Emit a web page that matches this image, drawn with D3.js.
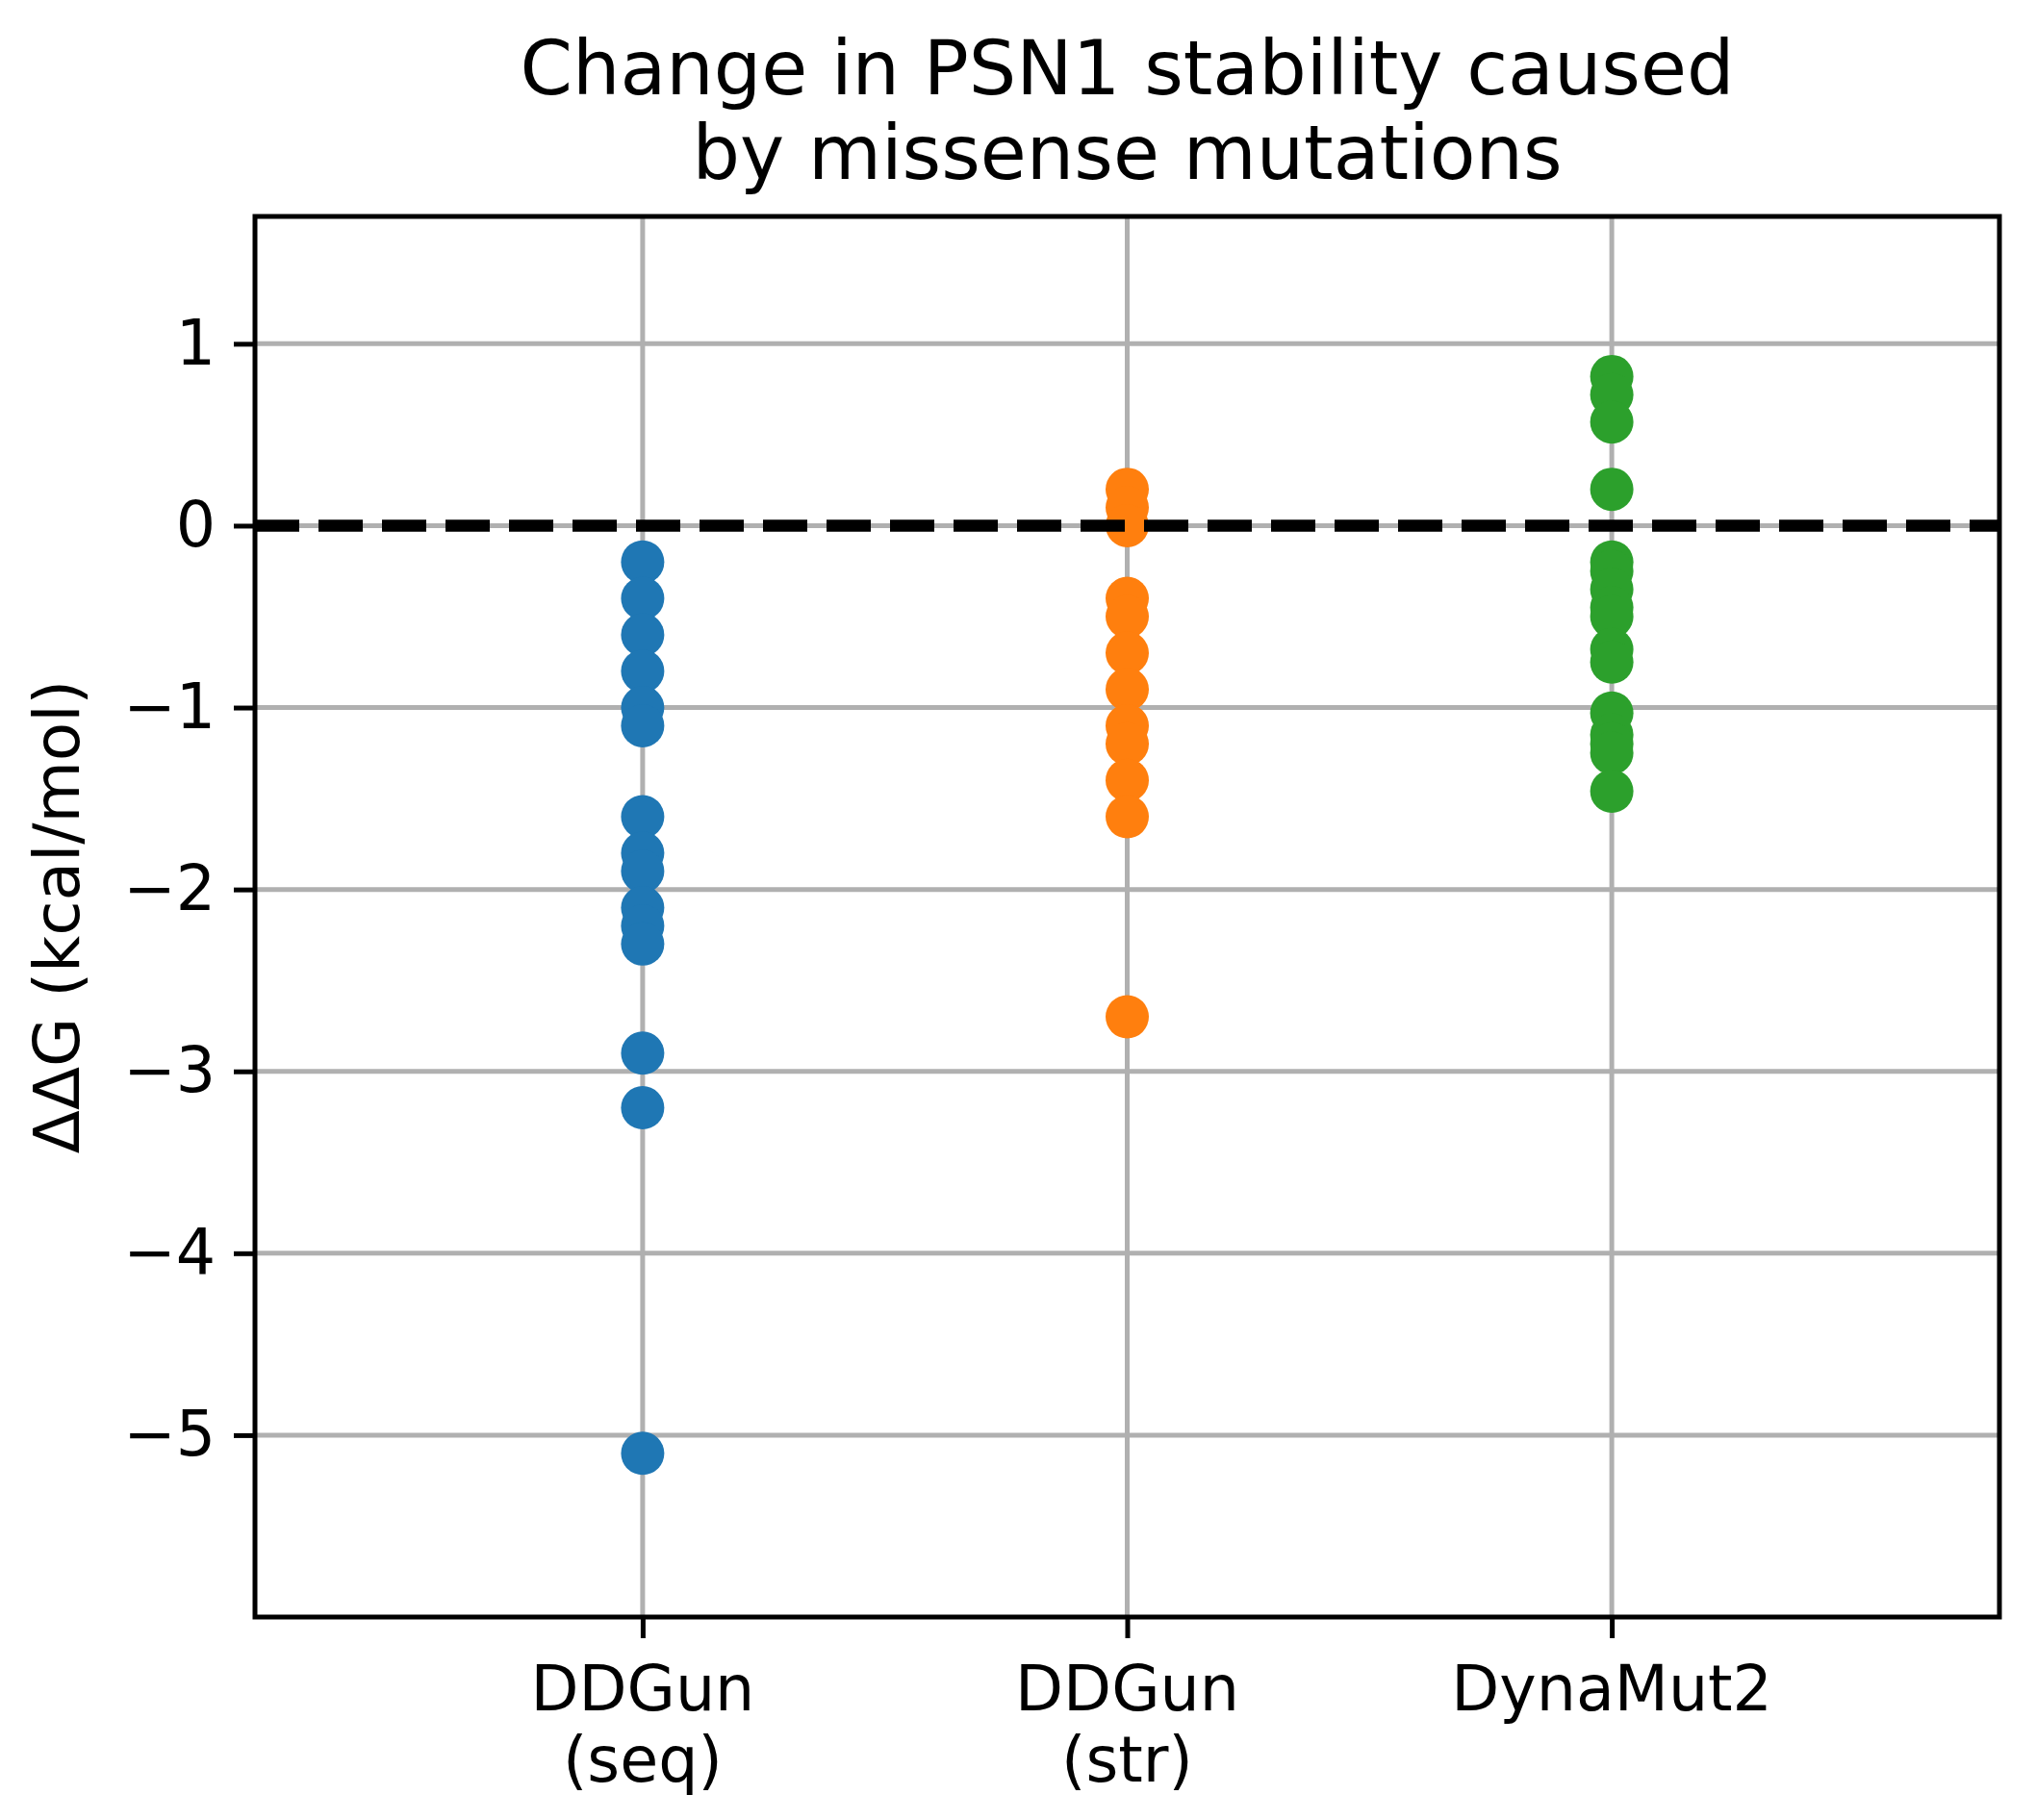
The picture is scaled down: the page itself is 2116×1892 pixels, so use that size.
<!DOCTYPE html>
<html>
<head>
<meta charset="utf-8">
<script src="https://cdn.jsdelivr.net/npm/d3@7"></script>
<style>
  body { margin: 0; background: #fff; }
  text { font-family: "DejaVu Sans", sans-serif; fill: #000; }
</style>
</head>
<body>
<svg id="chart"></svg>
<script>
/*******************************************************************************************/
// Data

var categories = ['DDGun\n(seq)', 'DDGun\n(str)', 'DynaMut2'];
var colors = ['#1f77b4', '#ff7f0e', '#2ca02c'];

var ddgunSeq = [-0.2, -0.4, -0.6, -0.8, -1.0, -1.1, -1.6, -1.8, -1.9, -2.1, -2.2, -2.3, -2.9, -3.2, -5.1];
var ddgunStr = [0.2, 0.1, 0.0, -0.4, -0.5, -0.7, -0.9, -1.1, -1.2, -1.4, -1.6, -2.7];
var dynaMut2 = [0.82, 0.72, 0.57, 0.2, -0.2, -0.25, -0.35, -0.45, -0.5, -0.68, -0.75, -1.03, -1.15, -1.2, -1.25, -1.46];

var yTicks = [1, 0, -1, -2, -3, -4, -5];
var yLimits = [-6, 1.7];
var xLimits = [-0.8, 2.8];

var titleLines = ['Change in PSN1 stability caused', 'by missense mutations'];
var yLabel = 'ΔΔG (kcal/mol)';

/*******************************************************************************************/
// Layout

var W = 2116, H = 1892;
var margin = { left: 265, top: 225, right: 38, bottom: 211 };
var width = W - margin.left - margin.right;
var height = H - margin.top - margin.bottom;

var svg = d3.select('#chart').attr('width', W).attr('height', H);
svg.append('rect').attr('width', W).attr('height', H).attr('fill', '#fff');

var xScale = d3.scaleLinear().domain(xLimits).range([0, width]);
var yScale = d3.scaleLinear().domain(yLimits).range([height, 0]);

var origin = svg.append('g').attr('transform', 'translate(' + margin.left + ',' + margin.top + ')');

/*******************************************************************************************/
// Grid

var grid = origin.append('g').attr('stroke', '#b0b0b0').attr('stroke-width', 5);
grid.selectAll('.hgrid').data(yTicks).enter().append('line')
  .attr('x1', 0).attr('x2', width)
  .attr('y1', function(d){ return yScale(d) }).attr('y2', function(d){ return yScale(d) });
grid.selectAll('.vgrid').data(categories).enter().append('line')
  .attr('y1', 0).attr('y2', height)
  .attr('x1', function(d, i){ return xScale(i) }).attr('x2', function(d, i){ return xScale(i) });

/*******************************************************************************************/
// Points

var series = [ddgunSeq, ddgunStr, dynaMut2];
series.forEach(function(vals, i){
  origin.append('g').selectAll('circle').data(vals).enter().append('circle')
    .attr('cx', xScale(i))
    .attr('cy', function(d){ return yScale(d) })
    .attr('r', 22.5)
    .attr('fill', colors[i]);
});

// zero line
origin.append('line')
  .attr('x1', 0).attr('x2', width)
  .attr('y1', yScale(0)).attr('y2', yScale(0))
  .attr('stroke', '#000').attr('stroke-width', 12.4)
  .attr('stroke-dasharray', '46,20');

/*******************************************************************************************/
// Axes

var yAxis = origin.append('g').call(
  d3.axisLeft(yScale).tickValues(yTicks).tickSize(22).tickPadding(19).tickFormat(d3.format('d'))
);
yAxis.select('.domain').remove();
yAxis.selectAll('line').attr('stroke-width', 5).attr('stroke', '#000');
yAxis.selectAll('text').attr('font-size', 65).attr('font-family', '"DejaVu Sans", sans-serif').attr('fill', '#000');

var xAxis = origin.append('g').attr('transform', 'translate(0,' + height + ')').call(
  d3.axisBottom(xScale).tickValues(d3.range(categories.length)).tickSize(22).tickFormat('')
);
xAxis.select('.domain').remove();
xAxis.selectAll('line').attr('stroke-width', 5).attr('stroke', '#000');

categories.forEach(function(c, i){
  var t = origin.append('text')
    .attr('text-anchor', 'middle')
    .attr('font-size', 65)
    .attr('transform', 'translate(' + xScale(i) + ',' + (height + 97) + ')');
  c.split('\n').forEach(function(line, j){
    t.append('tspan').attr('x', 0).attr('y', j * 74).text(line);
  });
});

// spines
origin.append('rect')
  .attr('width', width).attr('height', height)
  .attr('fill', 'none').attr('stroke', '#000').attr('stroke-width', 5);

/*******************************************************************************************/
// Labels

titleLines.forEach(function(line, j){
  svg.append('text')
    .attr('x', margin.left + width / 2).attr('y', 98 + j * 88)
    .attr('text-anchor', 'middle').attr('font-size', 78)
    .text(line);
});

svg.append('text')
  .attr('transform', 'translate(82,' + (margin.top + height / 2) + ') rotate(-90)')
  .attr('text-anchor', 'middle').attr('font-size', 66)
  .text(yLabel);
</script>
</body>
</html>
